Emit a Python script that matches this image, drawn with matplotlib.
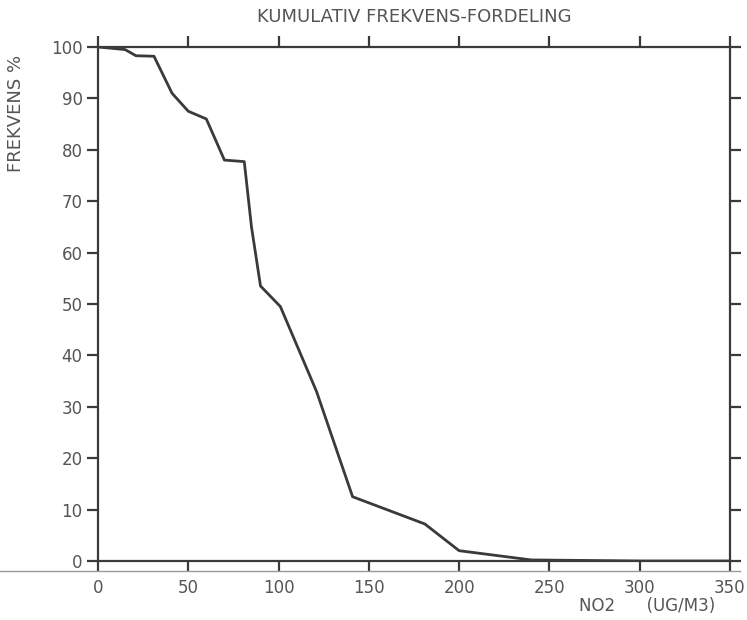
import matplotlib.pyplot as plt
from matplotlib.lines import Line2D

# cumulative frequency distribution
no2 = [0, 15, 21, 31, 41, 50, 60, 70, 81, 85, 90, 101, 121, 141, 181, 200, 240, 300, 350]
freq = [100, 99.5, 98.3, 98.2, 91, 87.5, 86, 78, 77.7, 65, 53.5, 49.5, 33, 12.5, 7.2, 2, 0.2, 0, 0]

x_ticks = [0, 50, 100, 150, 200, 250, 300, 350]
y_ticks = [0, 10, 20, 30, 40, 50, 60, 70, 80, 90, 100]

ink = '#3a3a3a'
txt = '#555555'

fig = plt.figure(figsize=(7.47, 6.2), dpi=100)
ax = fig.add_axes([0.1312, 0.0952, 0.846, 0.829])

ax.plot(no2, freq, color=ink, lw=2)

ax.set_xlim(0, 350)
ax.set_ylim(0, 100)
ax.set_xticks(x_ticks)
ax.set_yticks(y_ticks)
for s in ax.spines.values():
    s.set_color(ink)
    s.set_linewidth(1.6)

ax.tick_params(axis='both', direction='out', length=8, width=1.6, color=ink,
               labelcolor=txt, labelsize=12)
ax.tick_params(axis='x', top=True, pad=5)
ax.tick_params(axis='y', right=True, pad=3)

ax.set_title('KUMULATIV FREKVENS-FORDELING', fontsize=13, color=txt, pad=18)
ax.set_ylabel('FREKVENS %', fontsize=13, color=txt)
ax.yaxis.set_label_coords(-0.115, 0.87)
fig.text(0.957, 0.0226, 'NO2      (UG/M3)', ha='right', va='center', fontsize=12, color=txt)

# grey scan line under the plot
fig.add_artist(Line2D([0, 0.99], [0.079, 0.079], color='#9a9a9a', lw=1))

fig.savefig('out.png', dpi=100)
